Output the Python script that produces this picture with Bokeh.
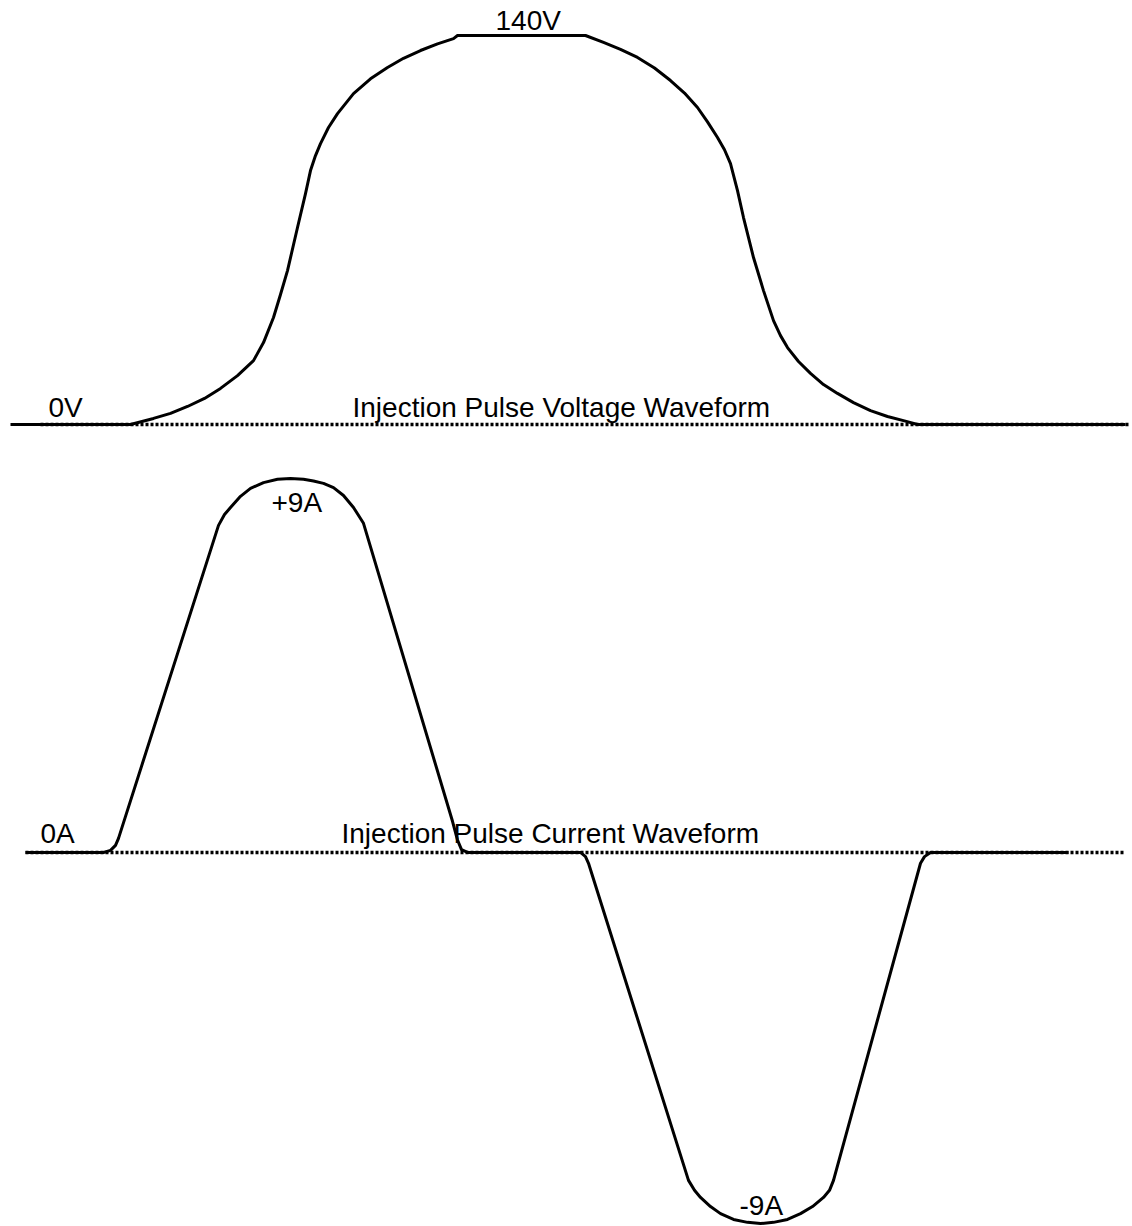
from bokeh.plotting import figure
from bokeh.models import Range1d
from bokeh.core.properties import value
from bokeh.embed import file_html
from bokeh.resources import INLINE

# ---- Voltage waveform (time in arbitrary units, volts) ----
volt_t = [10, 130, 153, 170, 187, 204, 220, 237, 253, 263, 273, 280, 287, 297, 305,
          310, 315, 320, 328, 337, 345, 353, 370, 387, 403, 420, 437, 453, 457,
          585, 603, 620, 637, 654, 670, 684, 697, 707, 717, 724, 730, 737, 743,
          753, 763, 773, 780, 787, 798, 810, 823, 837, 853, 870, 887, 903, 917, 1125]
volt_v = [0, 0, 2.2, 4.0, 6.5, 9.4, 13.0, 17.6, 23.0, 29.5, 38.5, 46.8, 55.4, 70.9, 83.1,
          91.4, 96.8, 101.1, 106.9, 111.9, 115.5, 119.1, 124.4, 128.5, 131.8, 134.6, 137.0, 138.9, 140,
          140, 137.5, 135.0, 132.1, 128.3, 123.8, 119.3, 114.1, 108.9, 103.3, 98.9, 93.9, 84.2, 74.5,
          60.1, 48.2, 37.4, 32.0, 27.7, 22.7, 18.4, 14.4, 11.2, 7.9, 5.0, 2.9, 1.4, 0, 0]

# ---- Current waveform (amps) ----
curr_t = [25, 103, 110, 115, 118, 218, 224, 230, 240, 250, 263, 277, 290,
          303, 313, 323, 333, 343, 353, 363, 452, 457, 461, 467,
          580, 585, 588, 688, 694, 700, 710, 720, 733, 747, 760, 773,
          787, 800, 812, 823, 829, 833, 920, 924, 930, 1068]
curr_i = [0, 0, 0.05, 0.17, 0.34, 7.87, 8.13, 8.30, 8.57, 8.76, 8.90, 8.98, 9.0,
          8.98, 8.94, 8.88, 8.78, 8.59, 8.30, 7.92, 0.75, 0.30, 0.07, 0,
          0, -0.10, -0.26, -7.89, -8.13, -8.30, -8.52, -8.69, -8.83, -8.90, -8.93, -8.90,
          -8.83, -8.69, -8.52, -8.30, -8.13, -7.89, -0.26, -0.10, 0, 0]

# ---- Zero reference (dotted) lines ----
volt_ref_t = [40, 1130]
volt_ref_v = [0, 0]
curr_ref_t = [25, 1125]
curr_ref_i = [0, 0]

# ---- Labels ----
volt_labels = ["140V", "0V", "Injection Pulse Voltage Waveform"]
volt_label_t = [495, 48, 352]
volt_label_v = [145.4, 6.1, 6.1]
curr_labels = ["+9A", "0A", "Injection Pulse Current Waveform", "-9A"]
curr_label_t = [271, 40, 341, 739]
curr_label_i = [8.42, 0.46, 0.46, -8.49]

p = figure(width=1132, height=1226, output_backend="svg", toolbar_location=None,
           x_range=Range1d(0, 1132), y_range=Range1d(-288.6, 152.6),
           min_border=0, outline_line_color=None)
p.extra_y_ranges = {"current": Range1d(-9.0, 20.5)}
p.xaxis.visible = False
p.yaxis.visible = False
p.xgrid.visible = False
p.ygrid.visible = False
p.background_fill_color = "white"
p.border_fill_color = "white"

p.line(volt_t, volt_v, line_color="black", line_width=3, line_join="round")
p.line(volt_ref_t, volt_ref_v, line_color="black", line_width=3.5, line_dash="3 2")
p.line(curr_t, curr_i, line_color="black", line_width=3, line_join="round",
       y_range_name="current")
p.line(curr_ref_t, curr_ref_i, line_color="black", line_width=3.5, line_dash="3 2",
       y_range_name="current")

p.text(x=volt_label_t, y=volt_label_v, text=volt_labels, text_font=value("Liberation Sans"),
       text_font_size="28px", text_color="black", text_align="left",
       text_baseline="alphabetic")
p.text(x=curr_label_t, y=curr_label_i, text=curr_labels, text_font=value("Liberation Sans"),
       text_font_size="28px", text_color="black", text_align="left",
       text_baseline="alphabetic", y_range_name="current")

open("out.html", "w").write(file_html(p, INLINE))
